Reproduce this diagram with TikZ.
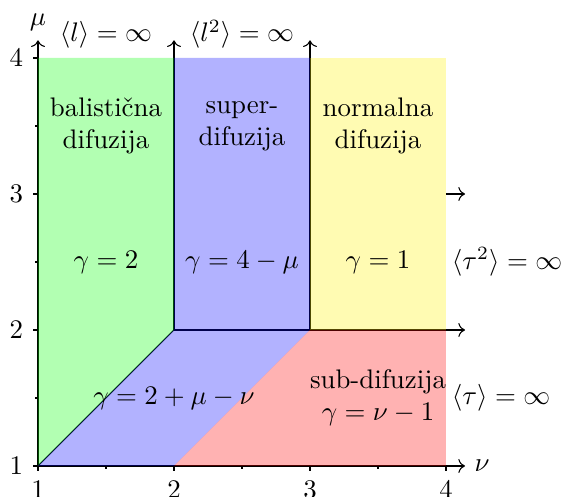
\documentclass[tikz,border=0pt]{standalone}
\usepackage{amsmath}
\usetikzlibrary{arrows.meta,positioning}

\begin{document}
\begin{tikzpicture}[x=1.78cm,y=1.78cm,
  region/.style={fill opacity=0.3},
  lbl/.style={align=center}]
\useasboundingbox (0.7206,0.779) rectangle (4.868,4.4265);
\coordinate (o) at (1,1);
\coordinate (xend) at (4.14,1);
\coordinate (yend) at (1,4.13);
\coordinate (m) at (2,2);
\coordinate (n) at (3,2);
\coordinate (mtop) at (2,4.13);
\coordinate (ntop) at (3,4.13);
\coordinate (rend) at (4.14,2);
\coordinate (p) at (4,3);
\coordinate (pend) at (4.14,3);
% axes and ticks
\draw[->] (o) -- (xend) node[right] (nu) {$\nu$};
\draw[->] (o) -- (yend) node[above] (mu) {$\mu$};
\foreach \i in {1,...,4}{
  \draw (\i,1) -- ++(0,-2pt) node[below] (xt\i) {$\i$};
  \draw (1,\i) -- ++(-2pt,0) node[left] (yt\i) {$\i$};
}
\foreach \i in {1.5,2.5,3.5}{
  \draw (\i,1) -- ++(0,-1pt);
  \draw (1,\i) -- ++(-1pt,0);
}
% borders
\draw (o) -- (m);
\draw[->] (m) -- (mtop);
\draw[->] (n) -- (ntop);
\draw[->] (m) -- (rend);
\draw[->] (p) -- (pend);
% regions
\fill[green,region] (1,1) -- (2,2) -- (2,4) -- (1,4) -- cycle;
\fill[blue,region] (1,1) -- (2,1) -- (3,2) -- (3,4) -- (2,4) -- (2,2) -- cycle;
\fill[yellow,region] (3,2) rectangle (4,4);
\fill[red,region] (2,1) -- (4,1) -- (4,2) -- (3,2) -- cycle;
% labels
\node[lbl] (bal) at (1.5,3.5) {balistična\\difuzija};
\node[lbl] (sup) at (2.5,3.5) {super-\\difuzija};
\node[lbl] (nor) at (3.5,3.5) {normalna\\difuzija};
\node (g1) at (1.5,2.5) {$\gamma=2$};
\node (g2) at (2.5,2.5) {$\gamma=4-\mu$};
\node (g3) at (3.5,2.5) {$\gamma=1$};
\node (g4) at (2,1.5) {$\gamma=2+\mu-\nu$};
\node[lbl] (sub) at (3.5,1.5) {sub-difuzija\\$\gamma=\nu-1$};
\node[above] (l1) at (1.5,4) {$\langle l\rangle=\infty$};
\node[above] (l2) at (2.5,4) {$\langle l^2\rangle=\infty$};
\node[right,inner sep=2pt] (t2) at (4,2.5) {$\langle\tau^2\rangle=\infty$};
\node[right,inner sep=2pt] (t1) at (4,1.5) {$\langle\tau\rangle=\infty$};
\end{tikzpicture}
\end{document}
